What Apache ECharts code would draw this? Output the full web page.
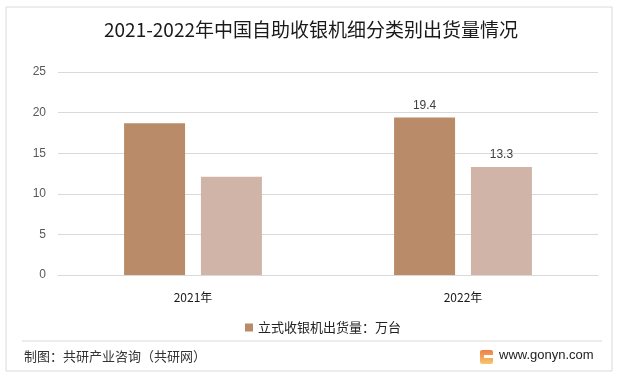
<!DOCTYPE html>
<html>
<head>
<meta charset="utf-8">
<script src="https://cdn.jsdelivr.net/npm/echarts@6/dist/echarts.min.js"></script>
<style>
    html, body { margin: 0; padding: 0; background: #fff; }
    #main { width: 622px; height: 377px; }
</style>
</head>
<body>
<div id="main"></div>
<script>
    var years = ['2021年', '2022年'];
    var standData = [18.7, 19.4];
    var otherData = [12.1, 13.3];
    var yTicks = [0, 5, 10, 15, 20, 25];
    var cjk = '"Noto Sans CJK SC", "Microsoft YaHei", sans-serif';
    var latin = 'Arial, "Liberation Sans", sans-serif';

    var chart = echarts.init(document.getElementById('main'));

    var option = {
        backgroundColor: '#fff',
        animation: false,
        title: {
            text: '2021-2022年中国自助收银机细分类别出货量情况',
            left: 'center',
            top: 15,
            textStyle: { fontFamily: cjk, fontSize: 19, fontWeight: 'normal', color: '#1a1a1a' }
        },
        legend: {
            data: ['立式收银机出货量：万台'],
            left: 240,
            top: 316,
            itemWidth: 8,
            itemHeight: 8,
            itemGap: 4,
            icon: 'rect',
            textStyle: { fontFamily: cjk, fontSize: 13, color: '#222' }
        },
        grid: { left: 58, right: 24, top: 72, bottom: 102 },
        xAxis: {
            type: 'category',
            data: years,
            axisLine: { lineStyle: { color: '#d9d9d9' } },
            axisTick: { show: false },
            axisLabel: { fontFamily: cjk, fontSize: 12, color: '#1a1a1a', margin: 16 }
        },
        yAxis: {
            type: 'value',
            min: yTicks[0],
            max: yTicks[yTicks.length - 1],
            interval: 5,
            axisLine: { show: false },
            axisTick: { show: false },
            axisLabel: { fontFamily: latin, fontSize: 12, color: '#595959', margin: 12 },
            splitLine: { lineStyle: { color: '#d9d9d9' } }
        },
        series: [{
            name: '立式收银机出货量：万台',
            type: 'bar',
            data: standData,
            barWidth: 61,
            barGap: '26%',
            itemStyle: { color: '#b98b69' },
            label: {
                show: true,
                position: 'top',
                distance: 6,
                fontFamily: latin,
                fontSize: 12,
                color: '#404040',
                // 只显示2022年的标签
                formatter: function (p) { return p.dataIndex === 1 ? p.value : ''; }
            }
        }, {
            name: '其他',
            type: 'bar',
            data: otherData,
            barWidth: 61,
            itemStyle: { color: '#d1b4a8' },
            label: {
                show: true,
                position: 'top',
                distance: 6,
                fontFamily: latin,
                fontSize: 12,
                color: '#404040',
                formatter: function (p) { return p.dataIndex === 1 ? p.value : ''; }
            }
        }],
        graphic: [
            { type: 'rect', shape: { x: 6, y: 7, width: 606, height: 364 }, style: { fill: 'none', stroke: '#d9d9d9', lineWidth: 1 }, silent: true },
            { type: 'line', shape: { x1: 22, y1: 341, x2: 602, y2: 341 }, style: { stroke: '#d9d9d9', lineWidth: 1 } },
            { type: 'text', left: 24, top: 350, style: { text: '制图：共研产业咨询（共研网）', font: '13px ' + cjk, fill: '#333' } },
            {
                type: 'rect', shape: { x: 480, y: 350, width: 13, height: 14, r: 2 },
                style: { fill: new echarts.graphic.LinearGradient(0, 0, 0, 1, [{ offset: 0, color: '#f07f45' }, { offset: 1, color: '#f8c66c' }]) }
            },
            { type: 'rect', shape: { x: 484, y: 355, width: 9, height: 3 }, style: { fill: '#fff' } },
            { type: 'text', left: 499, top: 349, style: { text: 'www.gonyn.com', font: '13px ' + latin, fill: '#222' } }
        ]
    };

    chart.setOption(option);
</script>
</body>
</html>
